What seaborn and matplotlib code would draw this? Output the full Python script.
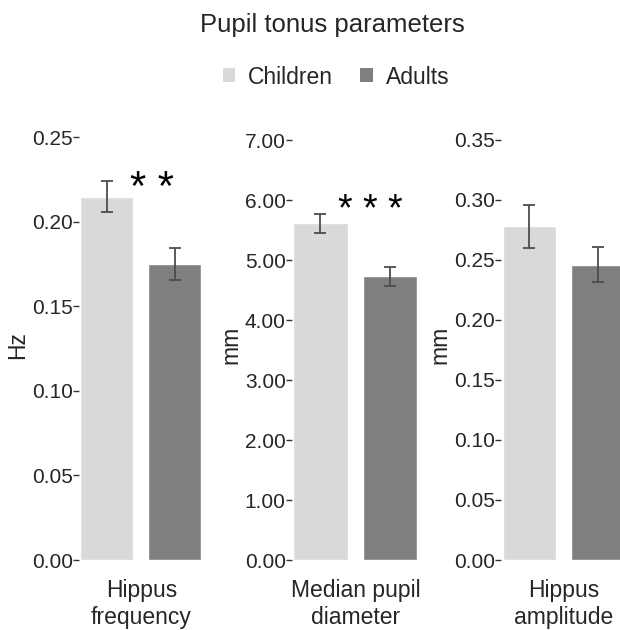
import matplotlib
matplotlib.use("Agg")
import matplotlib.pyplot as plt
from matplotlib.patches import Patch
import seaborn as sns
import pandas as pd

# ── Data ─────────────────────────────────────────────────────────────────────
groups = ["Children", "Adults"]

freq_mean = [0.215, 0.175]
freq_sem = [0.0093, 0.0094]

diam_mean = [5.61, 4.73]
diam_sem = [0.155, 0.16]

amp_mean = [0.278, 0.246]
amp_sem = [0.0178, 0.0146]

panel_names = ["Hippus\nfrequency", "Median pupil\ndiameter", "Hippus\namplitude"]
units = ["Hz", "mm", "mm"]
stars = ["* *", "* * *", ""]
ticks = [
    [0.00, 0.05, 0.10, 0.15, 0.20, 0.25],
    [0.0, 1.0, 2.0, 3.0, 4.0, 5.0, 6.0, 7.0],
    [0.00, 0.05, 0.10, 0.15, 0.20, 0.25, 0.30, 0.35],
]

# ── Style ────────────────────────────────────────────────────────────────────
sns.set_theme(style="white")
plt.rcParams["font.family"] = ["Liberation Sans", "DejaVu Sans"]
TEXT = "#262626"
palette = {"Children": "#d9d9d9", "Adults": "#7f7f7f"}

fig = plt.figure(figsize=(6.2, 6.3), dpi=100)
W, H = 620, 630


def px_axes(left, width, bottom=560, top=130):
    return fig.add_axes([left / W, 1 - bottom / H, width / W, (bottom - top) / H])


axes = [px_axes(79.1, 124.4), px_axes(292.0, 127.2), px_axes(501.4, 125.4)]
ylims = [0.2544, 7.167, 0.3583]
means = [freq_mean, diam_mean, amp_mean]
sems = [freq_sem, diam_sem, amp_sem]
star_pos = [(0.66, 0.2195), (0.72, 5.81), None]
star_size = [30, 27, 0]

for i, ax in enumerate(axes):
    df = pd.DataFrame({"group": groups, "value": means[i]})
    sns.barplot(data=df, x="group", y="value", hue="group", order=groups,
                palette=palette, width=0.78, errorbar=None, legend=False,
                saturation=1, ax=ax)
    ax.errorbar(range(len(groups)), means[i], yerr=sems[i], fmt="none",
                ecolor="#4d4d4d", elinewidth=1.3, capsize=4.2, capthick=1.3)
    ax.set_xlim(-0.41, 1.42)
    ax.set_ylim(0, ylims[i])
    ax.set_yticks(ticks[i])
    ax.set_yticklabels([f"{t:.2f}" for t in ticks[i]])
    ax.set_xticks([])
    ax.set_xlabel(panel_names[i], fontsize=16.5, color=TEXT, labelpad=14,
                  linespacing=1.2)
    ax.set_ylabel(units[i], fontsize=16.5, color=TEXT, labelpad=2)
    ax.tick_params(axis="y", left=True, length=4, width=1, color="#333333",
                   pad=0.5, labelsize=15, labelcolor=TEXT)
    sns.despine(ax=ax, left=True, bottom=True)
    if stars[i]:
        sx, sy = star_pos[i]
        ax.text(sx, sy, stars[i], ha="center", va="center",
                fontsize=star_size[i], color="black")

fig.text(332 / W, 1 - 25 / H, "Pupil tonus parameters", ha="center",
         va="center", fontsize=18.5, color=TEXT)

handles = [Patch(facecolor=palette[g], edgecolor="none", label=g) for g in groups]
fig.legend(handles=handles, loc="center", bbox_to_anchor=(336 / W, 1 - 77 / H),
           ncol=2, frameon=False, fontsize=16.5, handlelength=0.55,
           handleheight=0.55, handletextpad=0.55, columnspacing=1.2,
           labelcolor=TEXT)

fig.savefig("out.png", dpi=100)
